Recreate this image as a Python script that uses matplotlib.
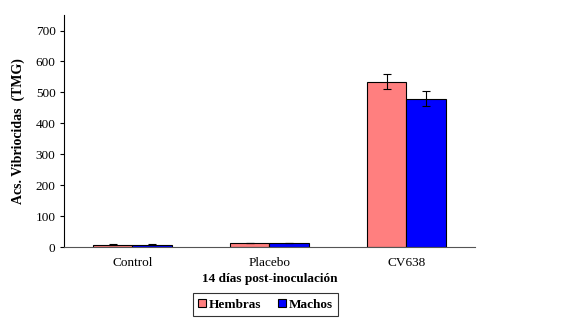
import matplotlib
matplotlib.use("Agg")
import matplotlib.pyplot as plt
import numpy as np
from matplotlib.patches import Patch

categories = ["Control", "Placebo", "CV638"]
hembras = [8, 12, 535]
machos = [8, 12, 480]
hembras_err = [3, 0, 25]
machos_err = [3, 0, 25]
yticks = [0, 100, 200, 300, 400, 500, 600, 700]

plt.rcParams['font.family'] = ['Liberation Serif', 'DejaVu Serif']

fig = plt.figure(figsize=(5.66, 3.21), dpi=100)
ax = fig.add_axes([0.113, 0.2305, 0.726, 0.7225])

x = np.arange(len(categories))
w = 0.29
ax.bar(x - w/2, hembras, w, color="#FF7F7F", edgecolor="black", linewidth=0.8,
       yerr=hembras_err, error_kw=dict(ecolor="black", elinewidth=0.8, capsize=3, capthick=0.8))
ax.bar(x + w/2, machos, w, color="#0000FF", edgecolor="black", linewidth=0.8,
       yerr=machos_err, error_kw=dict(ecolor="black", elinewidth=0.8, capsize=3, capthick=0.8))

ax.set_xlim(-0.5, 2.5)
ax.set_ylim(0, 750)
ax.set_yticks(yticks)
ax.set_xticks(x)
ax.set_xticklabels(categories, fontsize=9.5)
ax.tick_params(axis='y', labelsize=9.5, length=3, width=0.8, direction='out', pad=3)
ax.tick_params(axis='x', length=0, pad=7)
for s in ["top", "right"]:
    ax.spines[s].set_visible(False)
ax.spines["left"].set_color("black")
ax.spines["bottom"].set_color("#555555")
ax.spines["left"].set_linewidth(0.8)
ax.spines["bottom"].set_linewidth(0.8)

ax.set_ylabel("Acs. Vibriocidas  (TMG)", fontsize=10, fontweight="bold", labelpad=8)
ax.set_xlabel("14 días post-inoculación", fontsize=9.5, fontweight="bold", labelpad=3)

handles = [Patch(facecolor="#FF7F7F", edgecolor="black", linewidth=0.8, label="Hembras"),
           Patch(facecolor="#0000FF", edgecolor="black", linewidth=0.8, label="Machos")]
leg = fig.legend(handles=handles, loc="center", bbox_to_anchor=(265.5/566, 1 - 304.5/321),
                 ncol=2, prop=dict(weight="bold", size=9.5), frameon=True,
                 fancybox=False, edgecolor="black", handlelength=0.6, handleheight=0.6,
                 handletextpad=0.2, columnspacing=1.3, borderpad=0.4)
leg.get_frame().set_linewidth(0.8)

fig.savefig("out.png", dpi=100)
